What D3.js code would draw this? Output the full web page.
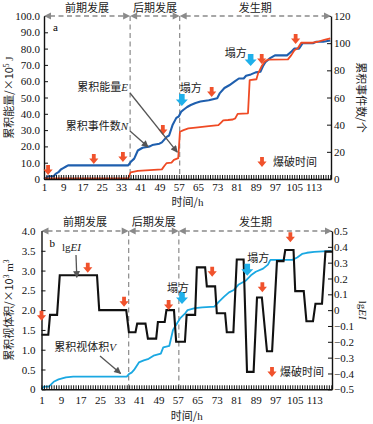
<!DOCTYPE html>
<html><head><meta charset="utf-8">
<script src="https://cdn.jsdelivr.net/npm/d3@7"></script>
<style>body{margin:0;background:#fff}svg{display:block}</style>
</head><body>
<svg id="c" width="373" height="424"></svg>
<script>
// ---------- DATA ----------
const xTickLabels = [1, 9, 17, 25, 33, 41, 49, 57, 65, 73, 81, 89, 97, 105, 113];
const minorHours = d3.range(1, 121);
const phaseNames = ["前期发展", "后期发展", "发生期"];
const phaseBounds = [36.8, 57.4];

// panel a
const topLeftTicks = [0, 10, 20, 30, 40, 50, 60, 70, 80, 90, 100];
const topRightTicks = [0, 20, 40, 60, 80, 100, 120];
const hoursN = [1,2,3,5,6,7,8,9,10,11,36,37,38.5,40,42,45,46,49,50,52,53,54.5,56,57,58,59,60.5,62,64,66,69.5,73,74,76,78,80,82,84,85,87,89,91,92,93,95,97,102,104,105,107,108.5,113,114,117,120];
const cumN   = [0,1,2,2,4,5,7,8,9,10,10,12.5,15,21,23,24,25,26,27,31,32,40,45,46,49.5,51,53,54.5,56,57,58,59.5,63,67,69,71.5,74,74,76,77,78.5,79,83,86,89,91,91,94,96,96,100,100,101,101,102];
const hoursE = [1,36,37,40,45,50,51,52,54,55,56.8,57.5,59,61,64,69.5,73.5,74.5,75.5,77.5,79.5,80.5,81.5,85.8,86.5,89.3,90,91.4,92.7,94,102.4,103.8,105.1,106.5,107.9,112.7,114.8,117.5,120];
const cumE   = [0.4,0.4,4,5,5.5,5.9,8,9.8,10,11.7,12.8,29,30,31,31.5,32.5,33,34.5,36,36.2,36.5,37.2,40,40.3,60.7,61.2,64.8,69,72,73.2,73.4,76,79,80.2,83.6,83.6,84.2,85.3,86.3];
const blastHoursA = [2.7, 21.7, 33.8, 50.4, 70.7, 91.5, 105.6];
const blastValsA  = [5.5, 12.3, 13.5, 30, 53.4, 73.6, 85.9];
const collapseHoursA = [58.3, 86.9];
const collapseValsA  = [48.5, 73];

// panel b
const botLeftTicks = [0, 0.5, 1, 1.5, 2, 2.5, 3, 3.5, 4];
const botRightTicks = [-0.5,-0.4,-0.3,-0.2,-0.1,0,0.1,0.2,0.3,0.4,0.5];
const hoursV = [1,2,4,6,8,11,14,36,37,38,39,41,43,45,47,50,51,53.5,55,56.5,58,60,61,64,67,72,74,76,78,80,82,85,87,89,92,94,95,104,106,108,110,113,120];
const cumV   = [0,0.07,0.07,0.19,0.25,0.3,0.32,0.32,0.39,0.42,0.49,0.68,0.73,0.77,0.85,0.9,1.06,1.1,1.5,1.65,1.8,1.92,2.0,2.05,2.07,2.09,2.22,2.34,2.45,2.51,2.65,2.75,2.88,2.97,3.05,3.15,3.27,3.27,3.33,3.42,3.45,3.47,3.5];
const lgStart = [1,4.5,8.5,24.7,36.9,40.3,44.7,48.8,52.3,56.3,60.6,64.8,68.9,73,77.1,81.2,85.4,89.5,93.6,97.7,101.1,105.2,109.8,113.5,117.6];
const lgEnd   = [3.8,7.4,23.8,35.8,39.6,43.7,48.1,51.6,55.4,59.9,64.1,68.2,72.3,76.4,79.8,84,88.1,91.5,95.7,100.4,104.5,108.7,112.5,116.2,120.3];
const lgValue = [-0.155,-0.03,0.22,0,-0.14,-0.085,-0.18,-0.075,0,-0.2,-0.03,0.27,0.15,-0.02,-0.14,0.32,-0.39,0.08,-0.26,0.31,0.38,0.12,-0.07,0.04,0.37];
const blastHoursB = [1, 20, 34.9, 53.2, 71.1, 91.7, 103.2];
const blastValsB  = [1.86, 3.07, 2.21, 2.13, 2.97, 2.58, 3.84];
const collapseHoursB = [58.7, 85.5];
const collapseValsB  = [2.31, 3.02];

// ---------- STYLE ----------
const SERIF = "'Liberation Serif','Times New Roman',serif";
const CJK = "'Noto Sans CJK SC','Noto Sans',sans-serif";
const C_N = "#1f5fae", C_E = "#ef4a24", C_V = "#1aa8e2", C_LG = "#111111";
const C_RED = "#f0522c", C_BLUE = "#1fb0ea", C_GRAY = "#8a8a8a", C_ANN = "#555";

const svg = d3.select("#c");
const defs = svg.append("defs");
defs.append("marker").attr("id","ah").attr("viewBox","0 0 10 10").attr("refX",9).attr("refY",5)
  .attr("markerWidth",8).attr("markerHeight",7).attr("markerUnits","userSpaceOnUse").attr("orient","auto")
  .append("path").attr("d","M0,0L10,5L0,10Z").attr("fill",C_ANN);

function redArrow(g, cx, cy){
  g.append("path").attr("fill", C_RED)
   .attr("d", `M${cx-1.9},${cy-5}H${cx+1.9}V${cy-0.5}H${cx+4.6}L${cx},${cy+5}L${cx-4.6},${cy-0.5}H${cx-1.9}Z`);
}
function blueArrow(g, cx, cy){
  g.append("path").attr("fill", C_BLUE)
   .attr("d", `M${cx-2.8},${cy-6}H${cx+2.8}V${cy-0.5}H${cx+6}L${cx},${cy+6}L${cx-6},${cy-0.5}H${cx-2.8}Z`);
}
function annArrow(g, x1,y1,x2,y2){
  g.append("line").attr("x1",x1).attr("y1",y1).attr("x2",x2).attr("y2",y2)
   .attr("stroke",C_ANN).attr("stroke-width",1.3).attr("marker-end","url(#ah)");
}
function styleAxis(g){
  g.select(".domain").attr("stroke","#111").attr("stroke-width",1.4);
  g.selectAll(".tick line").attr("stroke","#111").attr("stroke-width",1);
  g.selectAll(".tick text").attr("font-family",SERIF).attr("font-size",11).attr("fill","#111");
}
function phaseHeader(g, x, top, yText){
  const xs = [x.range()[0], x(phaseBounds[0]), x(phaseBounds[1]), x.range()[1]];
  for(let i=0;i<3;i++){
    const a = xs[i], b = xs[i+1];
    g.append("line").attr("x1",a+6).attr("x2",b-6).attr("y1",top).attr("y2",top)
      .attr("stroke",C_GRAY).attr("stroke-width",1.3).attr("stroke-dasharray","5,3.5");
    g.append("path").attr("fill",C_GRAY).attr("d",`M${a},${top}L${a+7},${top-3.5}L${a+7},${top+3.5}Z`);
    g.append("path").attr("fill",C_GRAY).attr("d",`M${b},${top}L${b-7},${top-3.5}L${b-7},${top+3.5}Z`);
    g.append("text").attr("x",(a+b)/2).attr("y",yText).attr("text-anchor","middle")
      .attr("font-family",CJK).attr("font-size",11).attr("fill","#222").text(phaseNames[i]);
  }
}
function phaseLines(g, x, top, bottom){
  phaseBounds.forEach(h=>{
    g.append("line").attr("x1",x(h)).attr("x2",x(h)).attr("y1",top).attr("y2",bottom)
     .attr("stroke",C_GRAY).attr("stroke-width",1.2).attr("stroke-dasharray","5,3.5");
  });
}
function xAxes(g, x, yAxis, pad){
  const minor = g.append("g").attr("transform",`translate(0,${yAxis})`)
    .call(d3.axisBottom(x).tickValues(minorHours).tickSizeInner(-4).tickSizeOuter(0).tickFormat(""));
  styleAxis(minor);
  const lab = g.append("g").attr("transform",`translate(0,${yAxis})`)
    .call(d3.axisBottom(x).tickValues(xTickLabels).tickSize(0).tickPadding(pad).tickFormat(d3.format("d")));
  styleAxis(lab); lab.select(".domain").remove();
}
function cjkText(g, x, y, parts, anchor, rot){
  const t = g.append("text").attr("x",x).attr("y",y).attr("text-anchor",anchor||"start")
    .attr("font-size",11).attr("fill","#222");
  if(rot) t.attr("transform",`rotate(${rot},${x},${y})`);
  parts.forEach(p=>{
    const s = t.append("tspan").text(p.t).attr("font-family", p.s ? SERIF : CJK);
    if(p.i) s.attr("font-style","italic");
    if(p.sup) s.attr("baseline-shift","super").attr("font-size",7.5);
  });
  return t;
}

// ---------- PANEL A ----------
{
  const L=44, R=331, T=16, B=179;
  const x = d3.scaleLinear().domain([1,120.3]).range([L,R]);
  const yL = d3.scaleLinear().domain([0,100]).range([B,T]);
  const yR = d3.scaleLinear().domain([0,120]).range([B,T]);
  const g = svg.append("g");

  phaseLines(g, x, T, B);

  const lineN = d3.line().x(d=>x(d[0])).y(d=>yR(d[1]));
  const lineE = d3.line().x(d=>x(d[0])).y(d=>yL(d[1]));
  g.append("path").datum(d3.zip(hoursN,cumN)).attr("d",lineN).attr("fill","none")
    .attr("stroke",C_N).attr("stroke-width",2.1).attr("stroke-linejoin","round");
  g.append("path").datum(d3.zip(hoursE,cumE)).attr("d",lineE).attr("fill","none")
    .attr("stroke",C_E).attr("stroke-width",1.8).attr("stroke-linejoin","round");

  const ax = g.append("g").attr("transform",`translate(${L},0)`)
    .call(d3.axisLeft(yL).tickValues(topLeftTicks).tickSizeInner(-4).tickSizeOuter(0).tickPadding(4)
      .tickFormat(d=> d===0 ? "0" : d3.format(".1f")(d)));
  styleAxis(ax);
  const ar = g.append("g").attr("transform",`translate(${R},0)`)
    .call(d3.axisRight(yR).tickValues(topRightTicks).tickSizeInner(-4).tickSizeOuter(0).tickPadding(3)
      .tickFormat(d3.format("d")));
  styleAxis(ar);
  xAxes(g, x, B, 4);

  phaseHeader(g, x, T, 12);

  blastHoursA.forEach((h,i)=>redArrow(g, x(h), yL(blastValsA[i])));
  collapseHoursA.forEach((h,i)=>blueArrow(g, x(h), yL(collapseValsA[i])));
  cjkText(g, x(collapseHoursA[0])-2, yL(collapseValsA[0])-8, [{t:"塌方"}], "start");
  cjkText(g, x(collapseHoursA[1])-26, yL(collapseValsA[1])-3, [{t:"塌方"}], "start");

  g.append("text").attr("x",L+9).attr("y",T+15).attr("font-family",SERIF).attr("font-size",11).text("a");

  cjkText(g, 128, 91, [{t:"累积能量"},{t:"E",s:1,i:1}], "end");
  annArrow(g, 130, 93, x(56.4), yL(16.5));
  cjkText(g, 128, 130, [{t:"累积事件数"},{t:"N",s:1,i:1}], "end");
  annArrow(g, 130, 131, x(44.3), yR(23.6));

  redArrow(g, 262, 162);
  cjkText(g, 273, 166, [{t:"爆破时间"}], "start");

  cjkText(g, 13, (T+B)/2, [{t:"累积能量/×10"},{t:"5",s:1,sup:1},{t:" J",s:1}], "middle", -90);
  cjkText(g, 357, (T+B)/2, [{t:"累积事件数/个"}], "middle", 90);
  cjkText(g, (L+R)/2, 206, [{t:"时间/"},{t:"h",s:1}], "middle");
}

// ---------- PANEL B ----------
{
  const L=41.5, R=332, T=231, B=389.3;
  const x = d3.scaleLinear().domain([1,120.3]).range([L,R]);
  const yL = d3.scaleLinear().domain([0,4]).range([B,T]);
  const yR = d3.scaleLinear().domain([-0.5,0.5]).range([B,T]);
  const g = svg.append("g");

  phaseLines(g, x, T, B);

  const lineV = d3.line().x(d=>x(d[0])).y(d=>yL(d[1]));
  g.append("path").datum(d3.zip(hoursV,cumV)).attr("d",lineV).attr("fill","none")
    .attr("stroke",C_V).attr("stroke-width",1.8).attr("stroke-linejoin","round");
  const lgPts = [];
  lgStart.forEach((s,i)=>{ lgPts.push([s,lgValue[i]]); lgPts.push([lgEnd[i],lgValue[i]]); });
  const lineLg = d3.line().x(d=>x(d[0])).y(d=>yR(d[1]));
  g.append("path").datum(lgPts).attr("d",lineLg).attr("fill","none")
    .attr("stroke",C_LG).attr("stroke-width",2.1).attr("stroke-linejoin","miter");

  const ax = g.append("g").attr("transform",`translate(${L},0)`)
    .call(d3.axisLeft(yL).tickValues(botLeftTicks).tickSizeInner(-4).tickSizeOuter(0).tickPadding(6)
      .tickFormat(d=> d===0 ? "0" : d3.format(".1f")(d)));
  styleAxis(ax);
  const ar = g.append("g").attr("transform",`translate(${R},0)`)
    .call(d3.axisRight(yR).tickValues(botRightTicks).tickSizeInner(-4).tickSizeOuter(0).tickPadding(2)
      .tickFormat(d=> Math.abs(d)<1e-9 ? "0" : (d<0 ? "\u2212" : "") + d3.format(".1f")(Math.abs(d))));
  styleAxis(ar);
  xAxes(g, x, B, 7);

  phaseHeader(g, x, T, 226);

  blastHoursB.forEach((h,i)=>redArrow(g, x(h), yL(blastValsB[i])));
  collapseHoursB.forEach((h,i)=>blueArrow(g, x(h), yL(collapseValsB[i])));
  cjkText(g, x(collapseHoursB[0])-15, yL(collapseValsB[0])-6, [{t:"塌方"}], "start");
  cjkText(g, x(collapseHoursB[1]), yL(collapseValsB[1])-8, [{t:"塌方"}], "start");

  g.append("text").attr("x",L+8).attr("y",T+16).attr("font-family",SERIF).attr("font-size",11).text("b");

  const t1 = g.append("text").attr("x",62).attr("y",251).attr("font-family",SERIF).attr("font-size",11).attr("fill","#222");
  t1.append("tspan").text("lg"); t1.append("tspan").attr("font-style","italic").text("EI");
  annArrow(g, 76, 255, x(15.5), yR(0.22)+2);
  cjkText(g, 116, 351, [{t:"累积视体积"},{t:"V",s:1,i:1}], "end");
  annArrow(g, 100, 356, x(33.5), yL(0.4));

  redArrow(g, 272, 372);
  cjkText(g, 280, 376, [{t:"爆破时间"}], "start");

  cjkText(g, 13, (T+B)/2, [{t:"累积视体积/×10"},{t:"3",s:1,sup:1},{t:" m",s:1},{t:"3",s:1,sup:1}], "middle", -90);
  const tr = g.append("text").attr("x",359).attr("y",(T+B)/2).attr("text-anchor","middle")
    .attr("font-family",SERIF).attr("font-size",11).attr("fill","#222")
    .attr("transform",`rotate(90,359,${(T+B)/2})`);
  tr.append("tspan").text("lg"); tr.append("tspan").attr("font-style","italic").text("EI");
  cjkText(g, (L+R)/2, 420, [{t:"时间/"},{t:"h",s:1}], "middle");
}
</script>
</body></html>
